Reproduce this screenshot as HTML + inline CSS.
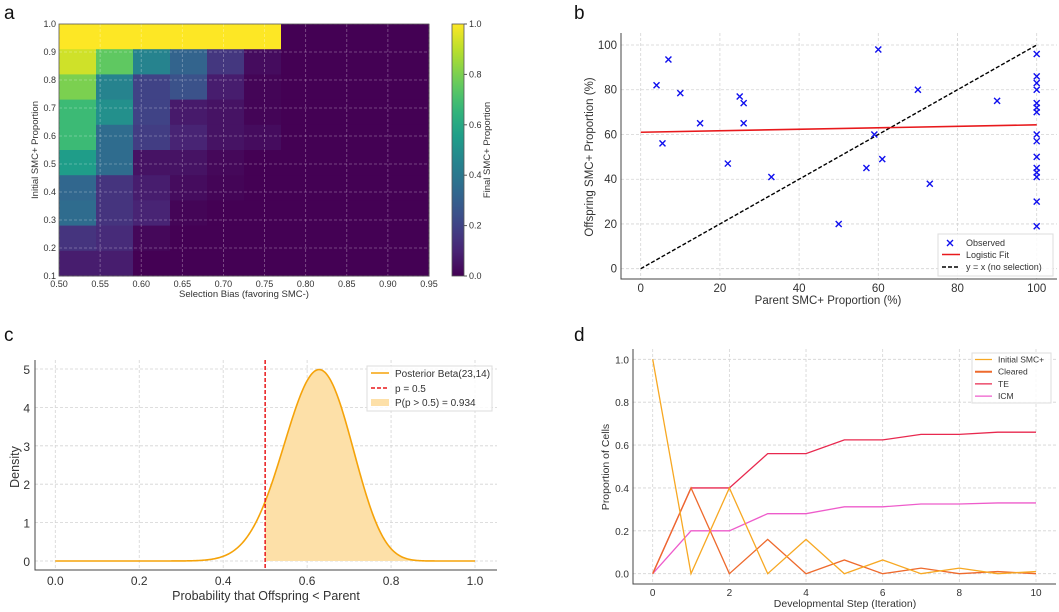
<!DOCTYPE html>
<html><head><meta charset="utf-8">
<style>
body{margin:0;background:#fff;}
svg{display:block;font-family:"Liberation Sans","DejaVu Sans",sans-serif;}
</style></head>
<body>
<svg id="fig" width="1059" height="612" viewBox="0 0 1059 612" xmlns="http://www.w3.org/2000/svg">
<text x="4" y="19" font-size="19" fill="#111">a</text>
<text x="574" y="19" font-size="19" fill="#111">b</text>
<text x="4" y="341" font-size="19" fill="#111">c</text>
<text x="574" y="341" font-size="19" fill="#111">d</text>
<g id="pa"></g>
<g id="pb"></g>
<g id="pc"></g>
<g id="pd"></g>
</svg>
<script>
// ---------- Panel a data ----------
const aXTicks = [0.50,0.55,0.60,0.65,0.70,0.75,0.80,0.85,0.90,0.95];
const aYTicks = [0.1,0.2,0.3,0.4,0.5,0.6,0.7,0.8,0.9,1.0];
const aRowsTopToBottom = [
 [1,1,1,1,1,1,0,0,0,0],
 [0.93,0.75,0.45,0.32,0.16,0.03,0,0,0,0],
 [0.8,0.45,0.2,0.25,0.08,0.01,0,0,0,0],
 [0.68,0.5,0.2,0.07,0.05,0.01,0,0,0,0],
 [0.68,0.35,0.18,0.1,0.05,0.03,0,0,0,0],
 [0.55,0.35,0.05,0.05,0.02,0,0,0,0,0],
 [0.33,0.15,0.08,0.03,0.01,0,0,0,0,0],
 [0.35,0.15,0.1,0.01,0,0,0,0,0,0],
 [0.15,0.12,0.02,0,0,0,0,0,0,0],
 [0.08,0.08,0,0,0,0,0,0,0,0]
];
const aCbTicks = [0.0,0.2,0.4,0.6,0.8,1.0];
// ---------- Panel b data ----------
const bParentX = [4,7,5.5,10,15,22,25,26,26,33,50,57,59,60,61,70,73,90,100,100,100,100,100,100,100,100,100,100,100,100,100,100,100];
const bOffspringY = [82,93.5,56,78.5,65,47,77,74,65,41,20,45,60,98,49,80,38,75,96,86,83,80,74,72,70,60,57,50,45,43,41,30,19];
const bFitEnds = [61,64.3];
const bXTicks = [0,20,40,60,80,100];
const bYTicks = [0,20,40,60,80,100];
// ---------- Panel c data ----------
const cAlpha = [23];
const cBeta = [14];
const cThreshold = [0.5];
const cXTicks = [0.0,0.2,0.4,0.6,0.8,1.0];
const cYTicks = [0,1,2,3,4,5];
// ---------- Panel d data ----------
const dSteps = [0,1,2,3,4,5,6,7,8,9,10];
const dInitial = [1,0,0.4,0,0.16,0,0.064,0,0.026,0,0.01];
const dCleared = [0,0.4,0,0.16,0,0.064,0,0.026,0,0.01,0];
const dTE = [0,0.4,0.4,0.56,0.56,0.624,0.624,0.65,0.65,0.66,0.66];
const dICM = [0,0.2,0.2,0.28,0.28,0.312,0.312,0.325,0.325,0.33,0.33];
const dXTicks = [0,2,4,6,8,10];
const dYTicks = [0.0,0.2,0.4,0.6,0.8,1.0];

const NS="http://www.w3.org/2000/svg";
function mk(parent,tag,attrs,txt){const e=document.createElementNS(NS,tag);for(const k in attrs)e.setAttribute(k,attrs[k]);if(txt!==undefined)e.textContent=txt;parent.appendChild(e);return e;}
const VIR=[[68,1,84],[72,40,120],[62,74,137],[49,104,142],[38,130,142],[31,158,137],[53,183,121],[109,205,89],[180,222,44],[253,231,37]];
function viridis(v){v=Math.max(0,Math.min(1,v));const p=v*9,i=Math.min(8,Math.floor(p)),f=p-i;const a=VIR[i],b=VIR[i+1];return 'rgb('+a.map((c,k)=>Math.round(c+(b[k]-c)*f)).join(',')+')';}
const GRID={stroke:'#d4d4d4','stroke-width':0.8,'stroke-dasharray':'3,2'};

// ===== Panel a =====
(function(){
 const g=document.getElementById('pa');
 const L=59,R=429,T=24,B=276;
 const x=v=>L+(v-0.5)/(0.95-0.5)*(R-L);
 const y=v=>B-(v-0.1)/(1.0-0.1)*(B-T);
 const nr=aRowsTopToBottom.length,nc=aRowsTopToBottom[0].length;
 const cw=(R-L)/nc,ch=(B-T)/nr;
 aRowsTopToBottom.forEach((row,r)=>row.forEach((v,c)=>{
  const el=mk(g,'rect',{x:L+c*cw,y:T+r*ch,width:cw+0.5,height:ch+0.5,fill:viridis(v)});
  
  
 }));
 aXTicks.forEach(t=>{mk(g,'line',Object.assign({x1:x(t),x2:x(t),y1:T,y2:B},GRID,{stroke:'#ffffff','stroke-opacity':0.35}));
  const tx=mk(g,'text',{x:x(t),y:B+11,'font-size':9,'text-anchor':'middle',fill:'#333'},t.toFixed(2));
  });
 aYTicks.forEach(t=>{mk(g,'line',Object.assign({x1:L,x2:R,y1:y(t),y2:y(t)},GRID,{stroke:'#ffffff','stroke-opacity':0.35}));
  const tx=mk(g,'text',{x:L-3,y:y(t)+3,'font-size':9,'text-anchor':'end',fill:'#333'},t.toFixed(1));
  });
 mk(g,'rect',{x:L,y:T,width:R-L,height:B-T,fill:'none',stroke:'#555','stroke-width':0.8});
 const xl=mk(g,'text',{x:(L+R)/2,y:297,'font-size':9.5,'text-anchor':'middle',fill:'#333'},'Selection Bias (favoring SMC-)');
 
 const yl=mk(g,'text',{x:0,y:0,'font-size':9.5,'text-anchor':'middle',fill:'#333',transform:'translate(38,150) rotate(-90)'},'Initial SMC+ Proportion');
 
 // colorbar
 const cx=452,cwid=12,cT=24,cB=276;
 const defs=mk(g,'defs',{});const lg=mk(defs,'linearGradient',{id:'vg',x1:0,y1:1,x2:0,y2:0});
 for(let i=0;i<=20;i++)mk(lg,'stop',{offset:i/20,'stop-color':viridis(i/20)});
 const cb=mk(g,'rect',{x:cx,y:cT,width:cwid,height:cB-cT,fill:'url(#vg)',stroke:'#555','stroke-width':0.8});
 
 aCbTicks.forEach(t=>{const yy=cB-t*(cB-cT);mk(g,'line',{x1:cx+cwid,x2:cx+cwid+3,y1:yy,y2:yy,stroke:'#555'});
  const tx=mk(g,'text',{x:cx+cwid+5,y:yy+3,'font-size':9,fill:'#333'},t.toFixed(1));
  });
 const cl=mk(g,'text',{x:0,y:0,'font-size':9.5,'text-anchor':'middle',fill:'#333',transform:'translate(490,150) rotate(-90)'},'Final SMC+ Proportion');
 
})();

// ===== Panel b =====
(function(){
 const g=document.getElementById('pb');
 const AL=621,AR=1057,AT=33,AB=279;
 const x=v=>640.7+v*(1036.7-640.7)/100;
 const y=v=>268.7-v*(268.7-45)/100;
 bXTicks.forEach(t=>{mk(g,'line',Object.assign({x1:x(t),x2:x(t),y1:AT,y2:AB},GRID));
  const tx=mk(g,'text',{x:x(t),y:AB+13,'font-size':11.5,'text-anchor':'middle',fill:'#333'},t);
  });
 bYTicks.forEach(t=>{mk(g,'line',Object.assign({x1:AL,x2:AR,y1:y(t),y2:y(t)},GRID));
  const tx=mk(g,'text',{x:AL-4,y:y(t)+4,'font-size':11.5,'text-anchor':'end',fill:'#333'},t);
  });
 mk(g,'path',{d:`M${AL},${AT}V${AB}H${AR}`,fill:'none',stroke:'#444','stroke-width':1});
 const idl=mk(g,'line',{x1:x(0),y1:y(0),x2:x(100),y2:y(100),stroke:'#000','stroke-width':1.4,'stroke-dasharray':'4,2'});
 
 const fl=mk(g,'line',{x1:x(0),y1:y(bFitEnds[0]),x2:x(100),y2:y(bFitEnds[1]),stroke:'#e8191c','stroke-width':1.6});
 
 bParentX.forEach((px,i)=>{const cx=x(px),cy=y(bOffspringY[i]),s=3;
  const p=mk(g,'path',{d:`M${cx-s},${cy-s}L${cx+s},${cy+s}M${cx-s},${cy+s}L${cx+s},${cy-s}`,stroke:'#1010ee','stroke-width':1.4});
  });
 const xl=mk(g,'text',{x:828,y:304,'font-size':11.5,'text-anchor':'middle',fill:'#333'},'Parent SMC+ Proportion (%)');
 
 const yl=mk(g,'text',{x:0,y:0,'font-size':11.5,'text-anchor':'middle',fill:'#333',transform:'translate(593,157) rotate(-90)'},'Offspring SMC+ Proportion (%)');
 
 const lgd=mk(g,'g',{});
 mk(lgd,'rect',{x:938,y:234,width:115,height:42,fill:'#fff','fill-opacity':0.85,stroke:'#ddd'});
 mk(lgd,'path',{d:'M947,240L953,246M947,246L953,240',stroke:'#1010ee','stroke-width':1.4});
 mk(lgd,'text',{x:966,y:246,'font-size':9,fill:'#333'},'Observed');
 mk(lgd,'line',{x1:942,x2:960,y1:254.5,y2:254.5,stroke:'#e8191c','stroke-width':1.6});
 mk(lgd,'text',{x:966,y:258,'font-size':9,fill:'#333'},'Logistic Fit');
 mk(lgd,'line',{x1:942,x2:960,y1:267,y2:267,stroke:'#000','stroke-width':1.4,'stroke-dasharray':'4,2'});
 mk(lgd,'text',{x:966,y:270,'font-size':9,fill:'#333'},'y = x (no selection)');
})();

// ===== Panel c =====
(function(){
 const g=document.getElementById('pc');
 const AL=35,AR=497,AT=360,AB=570;
 const x=v=>55.3+v*(475-55.3);
 const y=v=>561-v*(561-369)/5;
 const a=cAlpha[0],b=cBeta[0];
 function lg(n){let s=0;for(let i=2;i<n;i++)s+=Math.log(i);return s;} // log((n-1)!)
 const lB=lg(a)+lg(b)-lg(a+b);
 const pdf=p=>(p<=0||p>=1)?0:Math.exp((a-1)*Math.log(p)+(b-1)*Math.log(1-p)-lB);
 cXTicks.forEach(t=>{mk(g,'line',Object.assign({x1:x(t),x2:x(t),y1:AT,y2:AB},GRID));
  const tx=mk(g,'text',{x:x(t),y:AB+15,'font-size':12,'text-anchor':'middle',fill:'#333'},t.toFixed(1));
  });
 cYTicks.forEach(t=>{mk(g,'line',Object.assign({x1:AL,x2:AR,y1:y(t),y2:y(t)},GRID));
  const tx=mk(g,'text',{x:AL-5,y:y(t)+5,'font-size':12,'text-anchor':'end',fill:'#333'},t);
  });
 mk(g,'path',{d:`M${AL},${AT}V${AB}H${AR}`,fill:'none',stroke:'#444','stroke-width':1});
 let d='',fd='';const th=cThreshold[0];
 for(let i=0;i<=400;i++){const p=i/400;d+=(i?'L':'M')+x(p).toFixed(2)+','+y(pdf(p)).toFixed(2);}
 fd='M'+x(th)+','+y(0);
 for(let i=0;i<=200;i++){const p=th+(1-th)*i/200;fd+='L'+x(p).toFixed(2)+','+y(pdf(p)).toFixed(2);}
 fd+='L'+x(1)+','+y(0)+'Z';
 const fa=mk(g,'path',{d:fd,fill:'#fde0a8'});
 const cv=mk(g,'path',{d:d,fill:'none',stroke:'#f5a30a','stroke-width':1.6});
 const tl=mk(g,'line',{x1:x(th),x2:x(th),y1:AT,y2:AB,stroke:'#e8191c','stroke-width':1.5,'stroke-dasharray':'4,2'});
 
 const xl=mk(g,'text',{x:266,y:600,'font-size':12.5,'text-anchor':'middle',fill:'#333'},'Probability that Offspring < Parent');
 
 const yl=mk(g,'text',{x:0,y:0,'font-size':12.5,'text-anchor':'middle',fill:'#333',transform:'translate(19,467) rotate(-90)'},'Density');
 
 const lgd=mk(g,'g',{});
 mk(lgd,'rect',{x:367,y:366,width:125,height:45,fill:'#fff','fill-opacity':0.85,stroke:'#ddd'});
 mk(lgd,'line',{x1:371,x2:389,y1:373,y2:373,stroke:'#f5a30a','stroke-width':1.6});
 mk(lgd,'text',{x:395,y:377,'font-size':10,fill:'#333'},'Posterior Beta(23,14)');
 mk(lgd,'line',{x1:371,x2:389,y1:388,y2:388,stroke:'#e8191c','stroke-width':1.5,'stroke-dasharray':'4,2'});
 mk(lgd,'text',{x:395,y:392,'font-size':10,fill:'#333'},'p = 0.5');
 mk(lgd,'rect',{x:371,y:399,width:18,height:7,fill:'#fde0a8'});
 mk(lgd,'text',{x:395,y:406,'font-size':10,fill:'#333'},'P(p > 0.5) = 0.934');
})();

// ===== Panel d =====
(function(){
 const g=document.getElementById('pd');
 const AL=633,AR=1056,AT=349,AB=584;
 const x=v=>652.7+v*(1036-652.7)/10;
 const y=v=>573.7-v*(573.7-359.3);
 dXTicks.forEach(t=>{mk(g,'line',Object.assign({x1:x(t),x2:x(t),y1:AT,y2:AB},GRID));
  const tx=mk(g,'text',{x:x(t),y:AB+12,'font-size':10,'text-anchor':'middle',fill:'#333'},t);
  });
 dYTicks.forEach(t=>{mk(g,'line',Object.assign({x1:AL,x2:AR,y1:y(t),y2:y(t)},GRID));
  const tx=mk(g,'text',{x:AL-4,y:y(t)+4,'font-size':10,'text-anchor':'end',fill:'#333'},t.toFixed(1));
  });
 mk(g,'path',{d:`M${AL},${AT}V${AB}H${AR}`,fill:'none',stroke:'#444','stroke-width':1});
 const series=[[dInitial,'#f7a823','initial-smc-line'],[dCleared,'#ee6a2d','cleared-line'],[dTE,'#e8294f','te-line'],[dICM,'#ee5ccb','icm-line']];
 [series[3],series[2],series[1],series[0]].forEach(([vals,col,name])=>{
  const d=vals.map((v,i)=>(i?'L':'M')+x(dSteps[i]).toFixed(2)+','+y(v).toFixed(2)).join('');
  const p=mk(g,'path',{d:d,fill:'none',stroke:col,'stroke-width':1.3});
  });
 const xl=mk(g,'text',{x:845,y:607,'font-size':10.5,'text-anchor':'middle',fill:'#333'},'Developmental Step (Iteration)');
 
 const yl=mk(g,'text',{x:0,y:0,'font-size':10.5,'text-anchor':'middle',fill:'#333',transform:'translate(609,467) rotate(-90)'},'Proportion of Cells');
 
 const lgd=mk(g,'g',{});
 mk(lgd,'rect',{x:972,y:353,width:79,height:50,fill:'#fff','fill-opacity':0.85,stroke:'#ddd'});
 const labels=['Initial SMC+','Cleared','TE','ICM'];
 labels.forEach((lab,i)=>{const yy=359.5+i*12.2;
  mk(lgd,'line',{x1:975,x2:992,y1:yy,y2:yy,stroke:series[i][1],'stroke-width':i==1?2:1.3});
  mk(lgd,'text',{x:998,y:yy+3,'font-size':8.5,fill:'#333'},lab);});
})();
</script>
</body></html>
